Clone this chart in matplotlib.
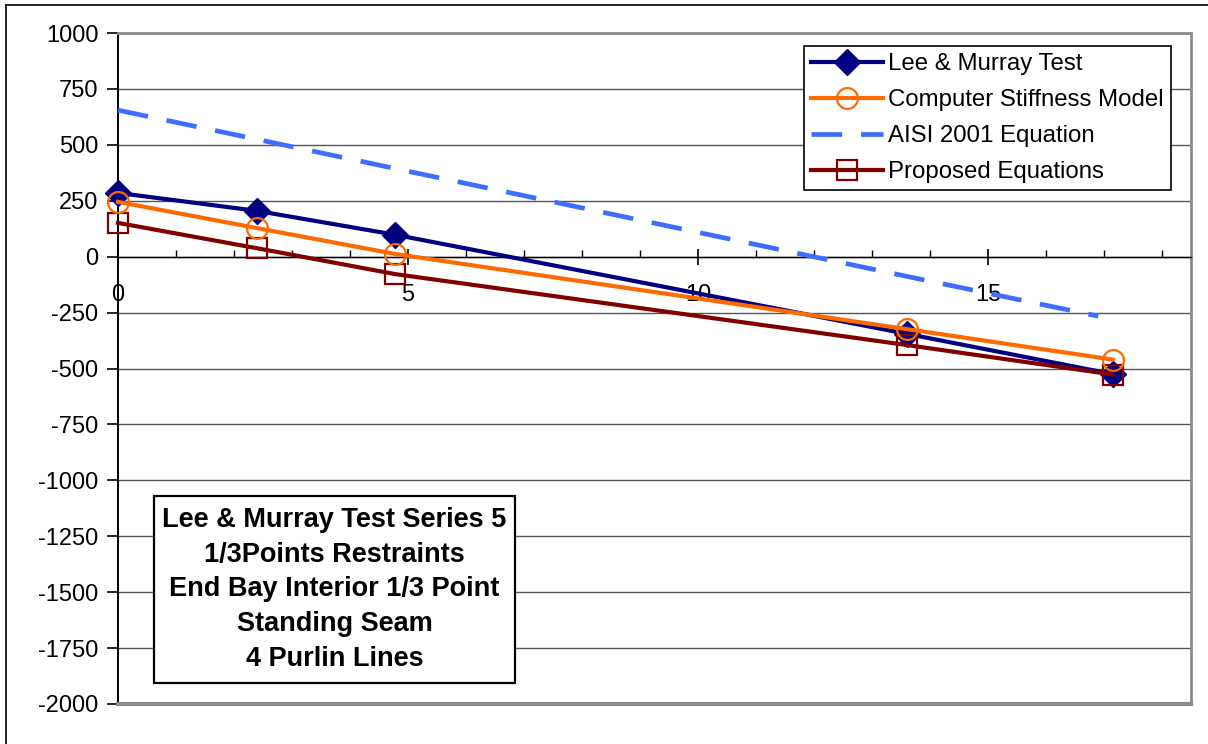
import matplotlib
matplotlib.use("Agg")
import matplotlib.pyplot as plt
from matplotlib.lines import Line2D
from matplotlib.patches import Rectangle
from matplotlib.ticker import MultipleLocator

plt.rcParams['font.family'] = ['Liberation Sans', 'DejaVu Sans']

# ---- data ----
x_vals = [0, 2.39, 4.78, 13.6, 17.15]
x_aisi = [0, 2.39, 4.78, 13.6, 16.9]
lee_murray = [285, 205, 98, -345, -525]
computer_model = [245, 128, 12, -324, -460]
aisi_2001 = [655, 525, 394, -88, -266]
proposed = [151, 38, -78, -395, -527]

series_labels = ["Lee & Murray Test", "Computer Stiffness Model",
                 "AISI 2001 Equation", "Proposed Equations"]
x_ticks = [0, 5, 10, 15]
y_ticks = [1000, 750, 500, 250, 0, -250, -500, -750, -1000,
           -1250, -1500, -1750, -2000]
annotation_lines = ["Lee & Murray Test Series 5",
                    "1/3Points Restraints",
                    "End Bay Interior 1/3 Point",
                    "Standing Seam",
                    "4 Purlin Lines"]

W, H = 1208, 744
AX_L, AX_R, AX_T, AX_B = 118, 1191, 33, 704
fig = plt.figure(figsize=(W / 100, H / 100), dpi=100)
ax = fig.add_axes([AX_L / W, (H - AX_B) / H, (AX_R - AX_L) / W, (AX_B - AX_T) / H])

def ax_x(px):
    return (px - AX_L) / (AX_R - AX_L)

def ax_y(py):
    return (AX_B - py) / (AX_B - AX_T)

ax.set_xlim(0, 18.5)
ax.set_ylim(-2000, 1000)

# gridlines
ax.set_yticks(y_ticks)
ax.yaxis.grid(True, color='#555555', lw=1.0)
ax.set_axisbelow(True)

navy = '#000080'
orange = '#FF6A00'
blue = '#3D6EFF'
brown = '#800000'

ax.plot(x_vals, lee_murray, color=navy, lw=3, marker='D', ms=13,
        mfc=navy, mec=navy, label=series_labels[0], zorder=5, clip_on=False)
ax.plot(x_vals, computer_model, color=orange, lw=3, marker='o', ms=15,
        mfc='none', mec=orange, mew=1.6, label=series_labels[1], zorder=6,
        clip_on=False)
ax.plot(x_aisi, aisi_2001, color=blue, lw=3.4, dashes=(6.5, 4.0),
        label=series_labels[2], zorder=4, clip_on=False)
ax.plot(x_vals, proposed, color=brown, lw=3, marker='s', ms=15,
        mfc='none', mec=brown, mew=1.6, label=series_labels[3], zorder=5,
        clip_on=False)

# spines
for s in ['top', 'right']:
    ax.spines[s].set_color('#8c8c8c')
    ax.spines[s].set_linewidth(2)
ax.spines['left'].set_color('black')
ax.spines['left'].set_linewidth(1.4)
ax.spines['bottom'].set_position(('data', 0))
ax.spines['bottom'].set_color('black')
ax.spines['bottom'].set_linewidth(1.0)
ax.axhline(-2000, color='#8c8c8c', lw=3, zorder=3, clip_on=False)

# ticks
ax.set_xticks(x_ticks)
ax.set_xticklabels([str(t) for t in x_ticks])
ax.xaxis.set_minor_locator(MultipleLocator(1))
ax.tick_params(axis='x', which='major', direction='inout', length=11,
               width=1.2, labelsize=17, pad=14)
ax.tick_params(axis='x', which='minor', direction='in', length=5, width=1)
ax.tick_params(axis='y', which='major', direction='out', length=8,
               width=1.2, labelsize=17, pad=6)
ax.set_yticklabels([str(t) for t in y_ticks])

# legend
leg = ax.legend(loc='upper right', bbox_to_anchor=(ax_x(1171), ax_y(46)),
                borderaxespad=0, fontsize=17.3, handlelength=3.0,
                handletextpad=0.2, labelspacing=0.58, borderpad=0.3,
                fancybox=False, framealpha=1, edgecolor='black')
leg.get_frame().set_linewidth(1.2)
leg.set_zorder(12)

# annotation box
ax.add_patch(Rectangle((ax_x(154), ax_y(683)), ax_x(515) - ax_x(154),
                       ax_y(496) - ax_y(683), transform=ax.transAxes,
                       fc='white', ec='black', lw=1.6, zorder=9))
ax.text((ax_x(154) + ax_x(515)) / 2, (ax_y(496) + ax_y(683)) / 2,
        "\n".join(annotation_lines), transform=ax.transAxes,
        ha='center', va='center', fontsize=19.5, fontweight='bold',
        linespacing=1.43, zorder=10)

# figure border (left and top)
fig.add_artist(Line2D([5.5 / W, 5.5 / W], [0, 1 - 4.5 / H], transform=fig.transFigure,
                      color='black', lw=1.2))
fig.add_artist(Line2D([5.5 / W, 1], [1 - 4.5 / H, 1 - 4.5 / H], transform=fig.transFigure,
                      color='black', lw=1.2))

fig.savefig('out.png', dpi=100)
